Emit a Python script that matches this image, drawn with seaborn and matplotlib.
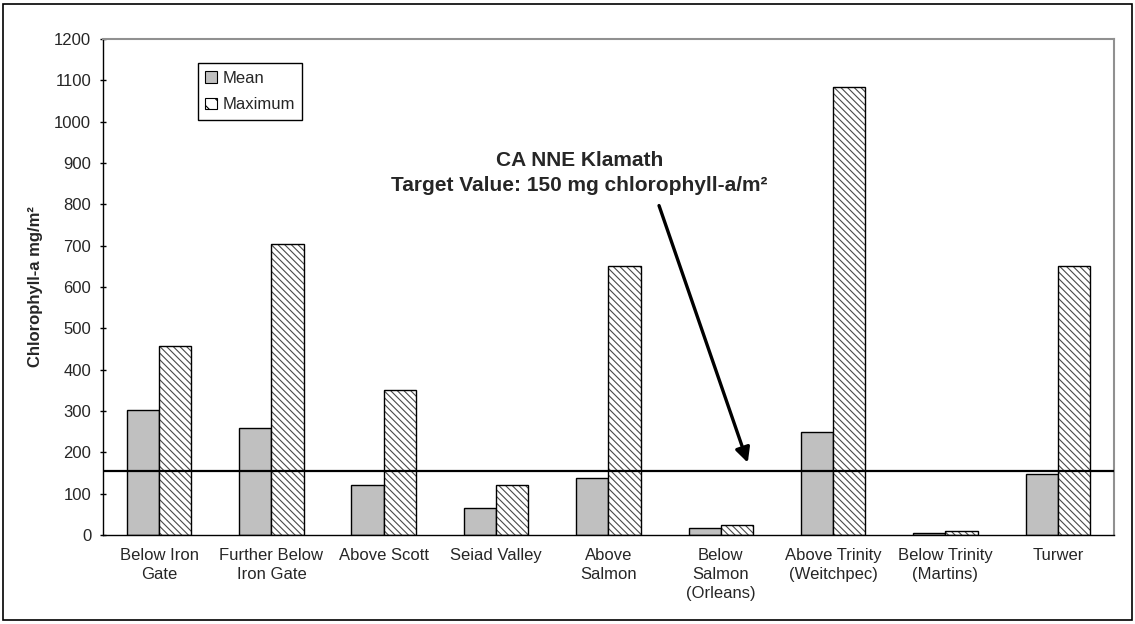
import pandas as pd
import seaborn as sns
import matplotlib.pyplot as plt
from matplotlib.patches import Patch, Rectangle

# site labels and readings (chlorophyll-a mg/m2)
sites = ['Below Iron\nGate', 'Further Below\nIron Gate', 'Above Scott', 'Seiad Valley',
         'Above\nSalmon', 'Below\nSalmon\n(Orleans)', 'Above Trinity\n(Weitchpec)',
         'Below Trinity\n(Martins)', 'Turwer']
mean_vals = [302, 259, 120, 65, 138, 18, 250, 5, 148]
max_vals = [458, 705, 350, 120, 652, 25, 1085, 10, 652]
target_value = 155
y_ticks = list(range(0, 1300, 100))

df = pd.DataFrame({
    'site': sites * 2,
    'value': mean_vals + max_vals,
    'stat': ['Mean'] * len(sites) + ['Maximum'] * len(sites),
})

sns.set_style('white')
plt.rcParams['font.family'] = ['Liberation Sans', 'DejaVu Sans']
plt.rcParams['hatch.linewidth'] = 0.8

fig, ax = plt.subplots(figsize=(11.35, 6.24), dpi=100)
fig.subplots_adjust(left=0.0907, right=0.9815, top=0.9375, bottom=0.1426)

sns.barplot(data=df, x='site', y='value', hue='stat', palette=['#C0C0C0', 'white'],
            width=0.575, gap=0, edgecolor='black', linewidth=1, saturation=1,
            legend=False, ax=ax)

# hatch the maximum bars with grey lines, then put a black outline back on top
for bar in ax.containers[1]:
    bar.set_hatch('\\' * 5)
    bar.set_edgecolor('#4a4a4a')
    bar.set_linewidth(0)
    ax.add_patch(Rectangle(bar.get_xy(), bar.get_width(), bar.get_height(),
                           fill=False, edgecolor='black', linewidth=1, zorder=3))

ax.axhline(target_value, color='black', linewidth=1.6, zorder=4)

ax.set_ylim(0, 1200)
ax.set_yticks(y_ticks)
ax.set_xlim(-0.5, len(sites) - 0.5)
ax.set_xticks(range(len(sites)))
ax.set_xticklabels(sites, fontsize=12, linespacing=1.35)
ax.set_xticks([i - 0.5 for i in range(len(sites) + 1)], minor=True)
ax.tick_params(axis='x', which='major', length=0, pad=9)
ax.tick_params(axis='x', which='minor', direction='inout', length=7, width=1, color='black')
ax.tick_params(axis='y', direction='inout', length=5, width=1, color='black', labelsize=12, pad=6, left=True)
ax.set_xlabel('')
ax.set_ylabel('Chlorophyll-a mg/m²', fontsize=12, fontweight='bold', labelpad=8)

for side in ['left', 'bottom']:
    ax.spines[side].set_color('black')
    ax.spines[side].set_linewidth(1)
for side in ['top', 'right']:
    ax.spines[side].set_color('#909090')
    ax.spines[side].set_linewidth(1.5)

handles = [Patch(facecolor='#C0C0C0', edgecolor='black', linewidth=0.8, label='Mean'),
           Patch(facecolor='white', edgecolor='black', linewidth=0.8, hatch='\\\\', label='Maximum')]
leg = ax.legend(handles=handles, loc='upper left', bbox_to_anchor=(0.094, 0.951), fontsize=12,
                handlelength=0.7, handleheight=0.7, handletextpad=0.3, labelspacing=0.7,
                borderpad=0.45, borderaxespad=0, fancybox=False, framealpha=1)
leg.get_frame().set_edgecolor('black')
leg.get_frame().set_linewidth(1)

ax.text(3.74, 876, 'CA NNE Klamath\nTarget Value: 150 mg chlorophyll-a/m²', ha='center', va='center',
        fontsize=15, fontweight='bold', linespacing=1.4)
ax.annotate('', xy=(5.24, 175), xytext=(4.45, 797),
            arrowprops=dict(arrowstyle='-|>', color='black', lw=2.4, mutation_scale=22,
                            shrinkA=0, shrinkB=0))

fig.add_artist(Rectangle((0.003, 0.006), 0.994, 0.988, transform=fig.transFigure,
                         fill=False, edgecolor='black', linewidth=1.2))

fig.savefig('out.png', dpi=100, facecolor='white')
